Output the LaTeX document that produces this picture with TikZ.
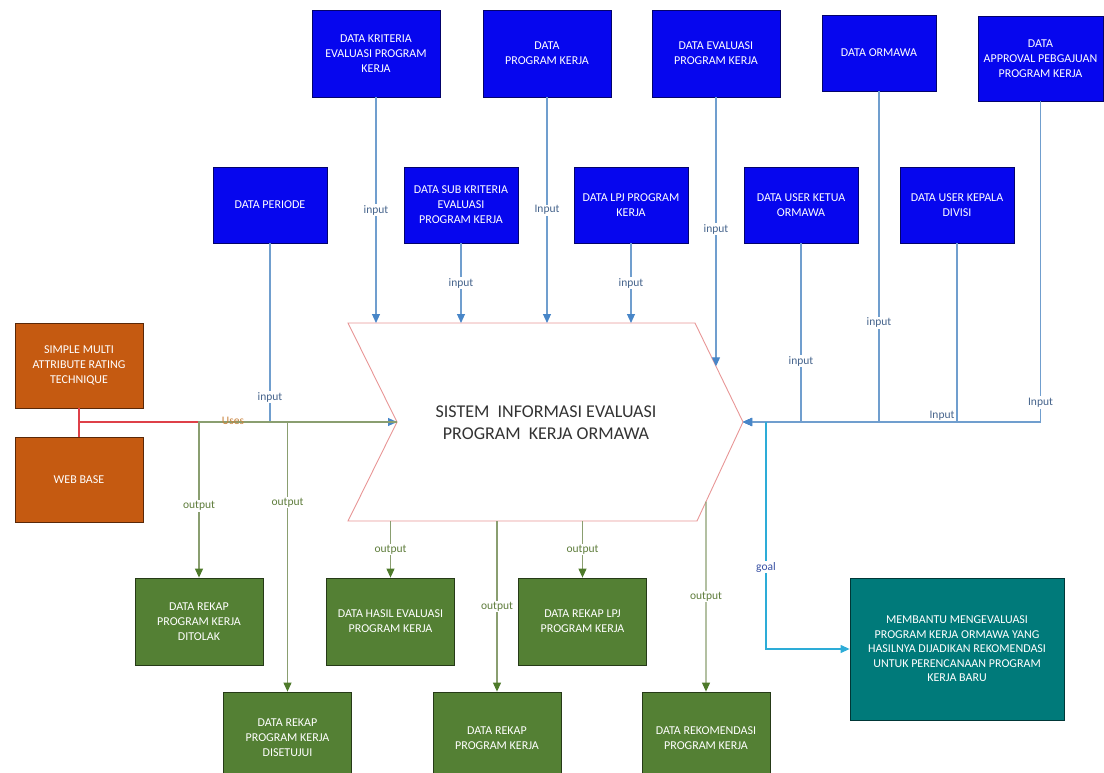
\documentclass[tikz,border=0pt]{standalone}
\usepackage{fontspec}
\setmainfont{Carlito}
\usetikzlibrary{arrows.meta,calc}

\definecolor{boxblue}{RGB}{6,6,238}
\definecolor{boxgreen}{RGB}{84,128,52}
\definecolor{boxorange}{RGB}{197,90,17}
\definecolor{boxteal}{RGB}{0,122,122}
\definecolor{inln}{RGB}{112,158,206}
\definecolor{inhead}{RGB}{72,134,200}
\definecolor{outln}{RGB}{138,158,112}
\definecolor{outhead}{RGB}{78,122,42}
\definecolor{goalln}{RGB}{45,172,215}
\definecolor{chevln}{RGB}{232,150,150}
\definecolor{useln}{RGB}{222,64,72}
\definecolor{intext}{RGB}{70,100,140}
\definecolor{outtext}{RGB}{95,125,60}
\definecolor{usetext}{RGB}{200,130,60}

\begin{document}
\begin{tikzpicture}[x=1pt,y=-1pt,
  box/.style={draw=#1!45!black, fill=#1, text=white, align=center,
    inner sep=0pt, line width=0.8pt, font=\fontsize{12}{15}\selectfont},
  inbox/.style={box=boxblue, minimum width=128pt, minimum height=87pt},
  smallbox/.style={box=boxblue, minimum width=114pt, minimum height=76pt},
  toolbox/.style={box=boxorange, minimum width=128pt, minimum height=85pt},
  resbox/.style={box=boxgreen, minimum width=128pt, minimum height=87pt},
  lowbox/.style={box=boxgreen, minimum width=128pt, minimum height=92pt},
  goalbox/.style={box=boxteal, minimum width=214pt, minimum height=142pt,
    font=\fontsize{12}{14.5}\selectfont},
  inarrow/.style={draw=inln, line width=1.1pt,
    -{Triangle[length=9pt,width=8pt,color=inhead]}},
  outarrow/.style={draw=outln, line width=1.1pt,
    -{Triangle[length=9pt,width=8pt,color=outhead]}},
  goalarrow/.style={draw=goalln, line width=1.1pt,
    -{Triangle[length=9pt,width=8pt,color=goalln]}},
  useline/.style={draw=useln, line width=1.1pt},
  inlabel/.style={fill=white, inner sep=1pt, text=intext,
    font=\fontsize{11.5}{13}\selectfont},
  outlabel/.style={fill=white, inner sep=1pt, text=outtext,
    font=\fontsize{11.5}{13}\selectfont},
  chevron/.style={draw=chevln, fill=white, line width=0.9pt}
]
\useasboundingbox (0,0) rectangle (1104,773);

% ---------- data sources, upper row ----------
\node[inbox] (krit) at (376,53.5) {DATA KRITERIA\\EVALUASI PROGRAM\\KERJA};
\node[inbox] (prog) at (547,53.5) {DATA\\PROGRAM KERJA};
\node[inbox] (evalp) at (716,53.5) {DATA EVALUASI\\PROGRAM KERJA};
\node[smallbox] (ormawa) at (879,53) {DATA ORMAWA};
\node[box=boxblue, minimum width=125pt, minimum height=85pt] (approval)
  at (1040.5,58.5) {DATA\\APPROVAL PEBGAJUAN\\PROGRAM KERJA};

% ---------- data sources, lower row ----------
\node[smallbox] (periode) at (270,205) {DATA PERIODE};
\node[smallbox] (subkrit) at (461,205) {DATA SUB KRITERIA\\EVALUASI\\PROGRAM KERJA};
\node[smallbox] (lpj) at (631,205) {DATA LPJ PROGRAM\\KERJA};
\node[smallbox] (ketua) at (801,205) {DATA USER KETUA\\ORMAWA};
\node[smallbox] (kepala) at (957,205) {DATA USER KEPALA\\DIVISI};

% ---------- method and platform ----------
\node[toolbox] (smart) at (79,365.5) {SIMPLE MULTI\\ATTRIBUTE RATING\\TECHNIQUE};
\node[toolbox] (web) at (79,479.5) {WEB BASE};

% ---------- central process (chevron) ----------
\coordinate (cTL) at (348,323);
\coordinate (cTR) at (695,323);
\coordinate (tip) at (743,422);
\coordinate (cBR) at (697,521);
\coordinate (cBL) at (348,521);
\coordinate (notch) at (397,422);
\draw[chevron] (cTL) -- (cTR) -- (tip) -- (cBR) -- (cBL) -- (notch) -- cycle;
\node[text=black!80, align=center, font=\fontsize{18}{22}\selectfont] (sys)
  at (546,423) {SISTEM\ \ INFORMASI EVALUASI\\PROGRAM\ \ KERJA ORMAWA};

% ---------- results ----------
\node[resbox] (ditolak) at (199,621.5) {DATA REKAP\\PROGRAM KERJA\\DITOLAK};
\node[resbox] (hasil) at (390.5,621.5) {DATA HASIL EVALUASI\\PROGRAM KERJA};
\node[resbox] (rekaplpj) at (582.5,621.5) {DATA REKAP LPJ\\PROGRAM KERJA};
\node[lowbox] (disetujui) at (287.5,738) {DATA REKAP\\PROGRAM KERJA\\DISETUJUI};
\node[lowbox] (rekap) at (497,738) {DATA REKAP\\PROGRAM KERJA};
\node[lowbox] (rekom) at (706,738) {DATA REKOMENDASI\\PROGRAM KERJA};
\node[goalbox] (goal) at (957,649) {MEMBANTU MENGEVALUASI\\PROGRAM KERJA ORMAWA YANG\\HASILNYA DIJADIKAN REKOMENDASI\\UNTUK PERENCANAAN PROGRAM\\KERJA BARU};

% ---------- "uses" link from the method boxes ----------
\coordinate (ujn) at (79,422);
\draw[useline] (smart.south) -- (web.north);
\draw[useline] (ujn) -- (notch);

% ---------- inputs ----------
\draw[inarrow] (krit.south) -- (krit.south |- cTL) node[inlabel, pos=0.5] {input};
\draw[inarrow] (prog.south) -- (prog.south |- cTL) node[inlabel, pos=0.5] {Input};
\coordinate (evend) at ($(cTR)!0.4375!(tip)$);
\draw[inarrow] (evalp.south) -- (evend) node[inlabel, pos=0.49] {input};
\draw[inarrow] (subkrit.south) -- (subkrit.south |- cTL) node[inlabel, pos=0.5] {input};
\draw[inarrow] (lpj.south) -- (lpj.south |- cTL) node[inlabel, pos=0.5] {input};
\draw[inarrow] (periode.south) |- (notch) node[inlabel, pos=0.43] {input};
\draw[inarrow] (ketua.south) |- (tip) node[inlabel, pos=0.33] {input};
\draw[inarrow] (ormawa.south) |- (tip) node[inlabel, pos=0.35] {input};
\draw[inarrow] (kepala.south) |- (tip)
  node[pos=0.5, anchor=south east, inner sep=1pt, xshift=-1pt, text=intext,
       font=\fontsize{11.5}{13}\selectfont] {Input};
\draw[inarrow] (approval.south) |- (tip) node[inlabel, pos=0.47, inner sep=2pt] {Input};

% ---------- outputs ----------
\draw[outarrow] (notch) -| (ditolak.north) node[outlabel, pos=0.77] {output};
\draw[outarrow] (notch) -| (disetujui.north) node[outlabel, pos=0.65] {output};
\draw[outarrow] (hasil.north |- cBL) -- (hasil.north) node[outlabel, pos=0.5] {output};
\draw[outarrow] (rekaplpj.north |- cBL) -- (rekaplpj.north) node[outlabel, pos=0.5] {output};
\draw[outarrow] (rekap.north |- cBL) -- (rekap.north) node[outlabel, pos=0.5] {output};
\coordinate (rkstart) at ($(cBR)!0.1957!(tip)$);
\draw[outarrow] (rkstart) -- (rekom.north) node[outlabel, pos=0.5] {output};

\node[text=usetext, font=\fontsize{11.5}{13}\selectfont] (uselbl) at (233,421) {Uses};

% ---------- goal ----------
\coordinate (gstart) at (766,422);
\draw[goalarrow] (gstart) |- (goal.west)
  node[pos=0.32, fill=white, inner sep=1pt, text=intext!80!blue,
       font=\fontsize{11.5}{13}\selectfont] {goal};
\end{tikzpicture}
\end{document}
